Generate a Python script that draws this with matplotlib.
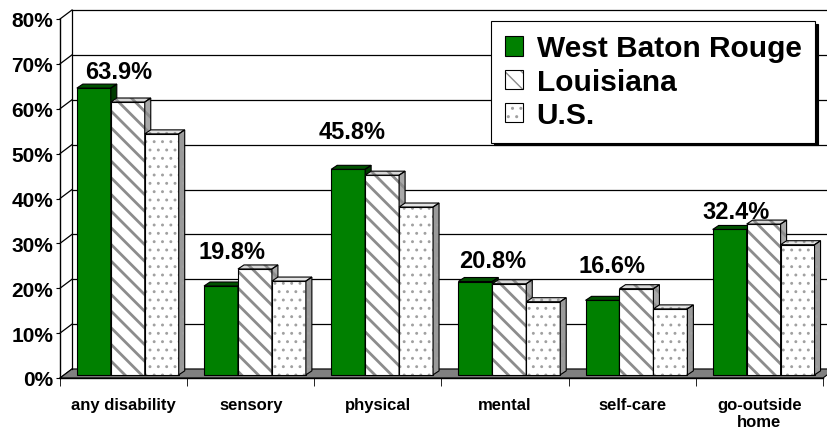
import matplotlib
matplotlib.use("Agg")
import matplotlib.pyplot as plt
from matplotlib.patches import Polygon, Patch
from matplotlib.legend_handler import HandlerTuple

plt.rcParams['font.family'] = ['Liberation Sans', 'DejaVu Sans']
plt.rcParams['font.weight'] = 'bold'

categories = ["any disability", "sensory", "physical", "mental", "self-care", "go-outside\nhome"]
series_names = ["West Baton Rouge", "Louisiana", "U.S."]
west_baton_rouge = [63.9, 19.8, 45.8, 20.8, 16.6, 32.4]
louisiana = [60.8, 23.6, 44.5, 20.3, 19.2, 33.6]
us = [53.7, 20.9, 37.4, 16.3, 14.7, 29.0]
yticks = [0, 10, 20, 30, 40, 50, 60, 70, 80]

# where the (hand placed) value labels sit
label_dx = [-0.04, -0.15, -0.20, -0.10, -0.16, -0.18]
label_y = [68.2, 28.1, 55.0, 26.1, 25.0, 37.2]

# face / top / side colours and hatch per series
styles = [
    dict(face="#008000", top="#005200", side="#003c00", hatch=None, hcol="none", hlw=1),
    dict(face="white", top="#d8d8d8", side="#a8a8a8", hatch="\\\\", hcol="#8c8c8c", hlw=2.0),
    dict(face="white", top="#e4e4e4", side="#9a9a9a", hatch="..", hcol="#a0a0a0", hlw=0.9),
]


def hatched(patch, st):
    """Apply the series hatch line width to a patch (mpl >= 3.10)."""
    if st["hatch"] and hasattr(patch, "set_hatch_linewidth"):
        patch.set_hatch_linewidth(st["hlw"])
    return patch


fig = plt.figure(figsize=(8.28, 4.31), dpi=100)
ax = fig.add_axes([60 / 828, 52 / 431, 763 / 828, 359 / 431])
ax.set_xlim(0, len(categories))
ax.set_ylim(0, 80)

# pixel -> data unit conversions for the fake 3D depth
p0 = ax.transData.transform((0, 0))
p1 = ax.transData.transform((1, 1))
sx, sy = p1[0] - p0[0], p1[1] - p0[1]
wall_dx, wall_dy = 12 / sx, 9 / sy
bar_dx, bar_dy = 6 / sx, 4 / sy
shift_x, shift_y = 0.35 * wall_dx, 0.35 * wall_dy
n = len(categories)

# floor, side wall, back wall grid
ax.add_patch(Polygon([(0, 0), (n, 0), (n + wall_dx, wall_dy), (wall_dx, wall_dy)],
                     closed=True, facecolor="#808080", edgecolor="black", lw=0.8,
                     clip_on=False, zorder=1))
for t in yticks:
    ax.plot([wall_dx, n + wall_dx], [t + wall_dy] * 2, color="black", lw=0.9,
            clip_on=False, zorder=0.5)
    ax.plot([0, wall_dx], [t, t + wall_dy], color="black", lw=0.9, clip_on=False, zorder=0.5)
ax.plot([wall_dx, wall_dx], [wall_dy, 80 + wall_dy], color="black", lw=0.9, clip_on=False)

# bars
w = 0.267
data = [west_baton_rouge, louisiana, us]
z = 2
for i in range(n):
    for j, vals in enumerate(data):
        st = styles[j]
        xl = i + 0.5 + (j - 1.5) * w + shift_x
        xr = xl + w
        b = shift_y
        top = vals[i] + shift_y
        with plt.rc_context({"hatch.linewidth": st["hlw"]}):
            bars = ax.bar(xl, vals[i], width=w, bottom=b, align="edge", color=st["face"],
                          edgecolor=st["hcol"], hatch=st["hatch"], linewidth=0, zorder=z)
            for p in bars:
                hatched(p, st)
            ax.bar(xl, vals[i], width=w, bottom=b, align="edge", fill=False,
                   edgecolor="black", linewidth=0.8, zorder=z + 0.01)
            top_face = [(xl, top), (xr, top), (xr + bar_dx, top + bar_dy), (xl + bar_dx, top + bar_dy)]
            side_face = [(xr, b), (xr + bar_dx, b + bar_dy), (xr + bar_dx, top + bar_dy), (xr, top)]
            for poly, fc in ((top_face, st["top"]), (side_face, st["side"])):
                ax.add_patch(hatched(Polygon(poly, closed=True, facecolor=fc,
                                             edgecolor=st["hcol"], hatch=st["hatch"],
                                             lw=0, zorder=z + 0.02), st))
                ax.add_patch(Polygon(poly, closed=True, fill=False, edgecolor="black",
                                     lw=0.8, zorder=z + 0.03))
        z += 0.1

    ax.text(i + 0.5 + label_dx[i], label_y[i], f"{west_baton_rouge[i]:.1f}%",
            ha="center", va="center", fontsize=17, fontweight="bold", zorder=20)

# axes
for s in ["top", "right"]:
    ax.spines[s].set_visible(False)
ax.spines["left"].set_linewidth(1)
ax.spines["bottom"].set_linewidth(1)
ax.set_yticks(yticks)
ax.set_yticklabels([f"{t}%" for t in yticks], fontsize=15, fontweight="bold")
ax.tick_params(axis="y", length=3, pad=2)
ax.set_xticks([i + 0.5 for i in range(n)])
ax.set_xticklabels(categories, fontsize=12, fontweight="bold", linespacing=1.1)
ax.set_xticks(range(n + 1), minor=True)
ax.tick_params(axis="x", which="major", length=0, pad=14)
ax.tick_params(axis="x", which="minor", length=6)

# legend: hatched swatch with a black outline on top
handles = []
for st in styles:
    with plt.rc_context({"hatch.linewidth": st["hlw"]}):
        fill = hatched(Patch(facecolor=st["face"], edgecolor=st["hcol"],
                             hatch=st["hatch"], lw=0), st)
    outline = Patch(fill=False, edgecolor="black", lw=0.8)
    handles.append((fill, outline))
leg = fig.legend(handles, series_names, loc="upper right",
                 bbox_to_anchor=(815 / 828, (431 - 22) / 431),
                 handler_map={tuple: HandlerTuple(ndivide=1, pad=0)},
                 prop=dict(size=21.5, weight="bold"), fancybox=False,
                 edgecolor="black", framealpha=1, shadow=dict(color="black", alpha=1),
                 handlelength=0.62, handleheight=0.62, handletextpad=0.45,
                 labelspacing=0.18, borderpad=0.45, borderaxespad=0)
leg.get_frame().set_linewidth(0.8)

fig.savefig("out.png", dpi=100)
